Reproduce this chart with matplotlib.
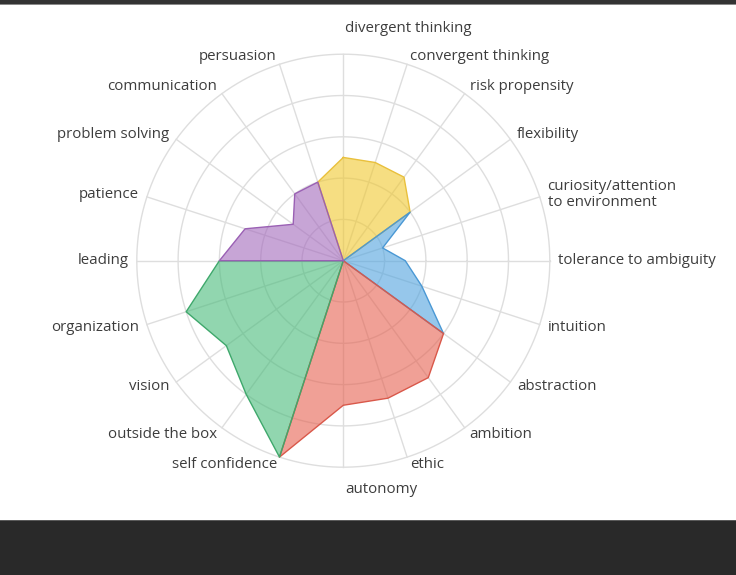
import numpy as np
import matplotlib
matplotlib.use("Agg")
import matplotlib.pyplot as plt
from matplotlib.patches import Rectangle

categories = [
    "divergent thinking", "convergent thinking", "risk propensity", "flexibility",
    "curiosity/attention\nto environment", "tolerance to ambiguity", "intuition",
    "abstraction", "ambition", "ethic", "autonomy", "self confidence",
    "outside the box", "vision", "organization", "leading", "patience",
    "problem solving", "communication", "persuasion",
]

yellow_vals = [2.5, 2.5, 2.5, 2.0, 0, 0, 0, 0, 0, 0, 0, 0, 0, 0, 0, 0, 0, 0, 0, 2.0]
blue_vals   = [0, 0, 0, 2.0, 1.0, 1.5, 2.0, 3.0, 0, 0, 0, 0, 0, 0, 0, 0, 0, 0, 0, 0]
red_vals    = [0, 0, 0, 0, 0, 0, 0, 3.0, 3.5, 3.5, 3.5, 5.0, 0, 0, 0, 0, 0, 0, 0, 0]
green_vals  = [0, 0, 0, 0, 0, 0, 0, 0, 0, 0, 0, 5.0, 4.0, 3.5, 4.0, 3.0, 0, 0, 0, 0]
purple_vals = [0, 0, 0, 0, 0, 0, 0, 0, 0, 0, 0, 0, 0, 0, 0, 3.0, 2.5, 1.5, 2.0, 2.0]

series = [
    (yellow_vals, "#f0c82f", "#e9c03c"),
    (blue_vals, "#50a3de", "#4a98d4"),
    (red_vals, "#e66150", "#d9584a"),
    (green_vals, "#48bb7a", "#3fa86c"),
    (purple_vals, "#a369bc", "#9a60b4"),
]
ring_levels = [1, 2, 3, 4, 5]

W, H, DPI = 736, 575, 100
fig = plt.figure(figsize=(W / DPI, H / DPI), dpi=DPI)
ax = fig.add_axes([0, 0, 1, 1])
cx, cy, unit = 343.3, 260.7, 41.3
ax.set_xlim(-cx / unit, (W - cx) / unit)
ax.set_ylim(-(H - cy) / unit, cy / unit)
ax.axis("off")

n = len(categories)
theta = np.deg2rad(np.arange(n) * 360.0 / n)
sx, sy = np.sin(theta), np.cos(theta)

grid_c = "#dedede"
t = np.linspace(0, 2 * np.pi, 400)
for r in ring_levels:
    ax.plot(r * np.cos(t), r * np.sin(t), color=grid_c, lw=1.0, zorder=1)
rmax = max(ring_levels)
for i in range(n):
    ax.plot([0, rmax * sx[i]], [0, rmax * sy[i]], color=grid_c, lw=1.0, zorder=1)

for vals, fc, ec in series:
    v = np.array(vals, dtype=float)
    x = np.append(v * sx, v[0] * sx[0])
    y = np.append(v * sy, v[0] * sy[0])
    ax.fill(x, y, facecolor=fc, alpha=0.6, edgecolor="none", zorder=2)
    ax.plot(x, y, color=ec, lw=1.0, zorder=3)

txt_c = "#3d3d3d"
font = "Open Sans"
fs = 10.8
for i, lab in enumerate(categories):
    if abs(sx[i]) < 0.01:
        R = 5.63 if sy[i] > 0 else 5.55
        ax.text(0.05, R * sy[i], lab, ha="left", va="center", fontsize=fs,
                color=txt_c, family=font)
    else:
        R = 5.2
        ha = "left" if sx[i] > 0 else "right"
        ax.text(R * sx[i], R * sy[i], lab, ha=ha, va="center", fontsize=fs,
                color=txt_c, family=font, multialignment="left", linespacing=1.05)

# header/footer bands
fig.patches.append(Rectangle((0, 1 - 4 / H), 1, 4 / H, transform=fig.transFigure,
                             facecolor="#333333", edgecolor="none"))
fig.patches.append(Rectangle((0, 1 - 5 / H), 1, 1 / H, transform=fig.transFigure,
                             facecolor="#8a8a8a", edgecolor="none"))
fig.patches.append(Rectangle((0, 0), 1, 55 / H, transform=fig.transFigure,
                             facecolor="#292929", edgecolor="none"))
fig.patches.append(Rectangle((0, 54 / H), 1, 1.2 / H, transform=fig.transFigure,
                             facecolor="#5a5a5a", edgecolor="none"))

fig.savefig("out.png", dpi=DPI)
